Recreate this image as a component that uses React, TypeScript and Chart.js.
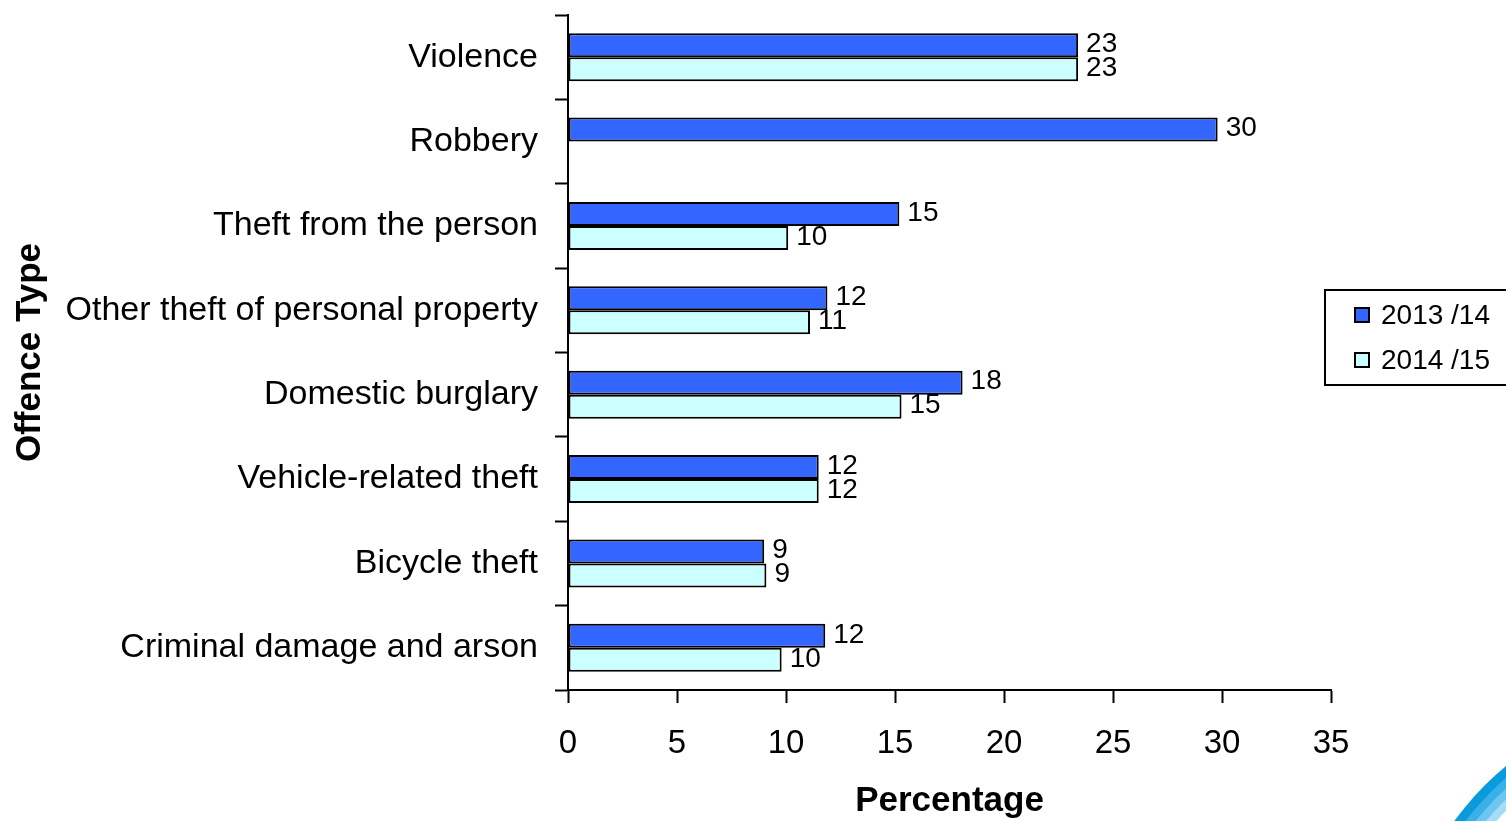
import React, { useEffect, useRef } from "react";
import { Chart, registerables } from "chart.js";

Chart.register(...registerables);

const categories = [
  "Violence",
  "Robbery",
  "Theft from the person",
  "Other theft of personal property",
  "Domestic burglary",
  "Vehicle-related theft",
  "Bicycle theft",
  "Criminal damage and arson",
];
const series2013Label = "2013 /14";
const series2014Label = "2014 /15";
const values2013: (number | null)[] = [23.4, 29.8, 15.2, 11.9, 18.1, 11.5, 9.0, 11.8];
const values2014: (number | null)[] = [23.4, null, 10.1, 11.1, 15.3, 11.5, 9.1, 9.8];
const xTickMax = 35;
const xTickStep = 5;

const SANS = "'Liberation Sans', Arial, Helvetica, sans-serif";

const valueLabelPlugin = {
  id: "valueLabels",
  afterDatasetsDraw(chart: any) {
    const ctx = chart.ctx;
    ctx.save();
    ctx.font = `28px ${SANS}`;
    ctx.fillStyle = "#000";
    ctx.textAlign = "left";
    ctx.textBaseline = "middle";
    chart.data.datasets.forEach((ds: any, di: number) => {
      const meta = chart.getDatasetMeta(di);
      meta.data.forEach((el: any, i: number) => {
        const v = ds.data[i];
        if (v === null || v === undefined) return;
        ctx.fillText(String(Math.round(v)), el.x + 8, el.y - 1);
      });
    });
    ctx.restore();
  },
};

const legendBoxPlugin = {
  id: "legendBox",
  afterDraw(chart: any) {
    const ctx = chart.ctx;
    ctx.save();
    ctx.strokeStyle = "#000";
    ctx.lineWidth = 2;
    ctx.strokeRect(1325, 290, 200, 95);
    ctx.font = `28px ${SANS}`;
    ctx.textBaseline = "middle";
    ctx.textAlign = "left";
    chart.data.datasets.forEach((ds: any, i: number) => {
      const cy = 315 + i * 45;
      ctx.fillStyle = ds.backgroundColor;
      ctx.fillRect(1355, cy - 7, 14, 14);
      ctx.lineWidth = 2;
      ctx.strokeStyle = "#000";
      ctx.strokeRect(1355, cy - 7, 14, 14);
      ctx.fillStyle = "#000";
      ctx.fillText(ds.label, 1381, cy + 1);
    });
    ctx.restore();
  },
};

const swooshPlugin = {
  id: "swoosh",
  beforeDraw(chart: any) {
    const ctx = chart.ctx;
    ctx.save();
    const colors = ["#0A9BDD", "#3AB0E8", "#6CC6F0", "#A6DDF6"];
    const radii = [304, 295, 287, 279];
    radii.forEach((r, i) => {
      ctx.beginPath();
      ctx.fillStyle = colors[i];
      ctx.arc(1700, 1000, r, 0, Math.PI * 2);
      ctx.fill();
    });
    ctx.beginPath();
    ctx.fillStyle = "#ffffff";
    ctx.arc(1700, 1000, 271, 0, Math.PI * 2);
    ctx.fill();
    ctx.restore();
  },
};

export default function App() {
  const canvasRef = useRef<HTMLCanvasElement | null>(null);

  useEffect(() => {
    if (!canvasRef.current) return;
    const chart = new Chart(canvasRef.current, {
      type: "bar",
      data: {
        labels: categories,
        datasets: [
          {
            label: series2013Label,
            data: values2013,
            backgroundColor: "#3366FF",
            borderColor: "#000000",
            borderWidth: 2,
            borderSkipped: false,
            categoryPercentage: 0.57,
            barPercentage: 1,
          },
          {
            label: series2014Label,
            data: values2014,
            backgroundColor: "#CCFFFF",
            borderColor: "#000000",
            borderWidth: 2,
            borderSkipped: false,
            categoryPercentage: 0.57,
            barPercentage: 1,
          },
        ],
      } as any,
      options: {
        indexAxis: "y",
        animation: false,
        responsive: false,
        devicePixelRatio: 1,
        layout: { padding: { top: 15, right: 175, bottom: 0, left: 0 } },
        plugins: {
          legend: { display: false },
          tooltip: { enabled: false },
        },
        scales: {
          x: {
            min: 0,
            max: xTickMax,
            ticks: {
              stepSize: xTickStep,
              color: "#000",
              font: { family: SANS, size: 33 },
              padding: 21,
              maxRotation: 0,
            },
            grid: {
              drawOnChartArea: false,
              drawTicks: true,
              tickLength: 13,
              tickWidth: 2,
              tickColor: "#000",
              color: "#000",
            },
            border: { display: true, color: "#000", width: 2 },
            title: {
              display: true,
              text: "Percentage",
              color: "#000",
              font: { family: SANS, size: 35, weight: "bold", lineHeight: 1.1 },
              padding: { top: 0, bottom: 0 },
            },
            afterFit(scale: any) {
              scale.height = 131;
            },
          },
          y: {
            ticks: {
              color: "#000",
              font: { family: SANS, size: 34 },
              padding: 17,
            },
            grid: {
              drawOnChartArea: false,
              drawTicks: true,
              offset: true,
              tickLength: 13,
              tickWidth: 2,
              tickColor: "#000",
              color: "#000",
            },
            border: { display: true, color: "#000", width: 2 },
            title: {
              display: true,
              text: "Offence Type",
              color: "#000",
              font: { family: SANS, size: 35, weight: "bold", lineHeight: 1.2 },
              padding: { top: 9, bottom: 0 },
            },
            afterFit(scale: any) {
              scale.width = 568;
              scale.paddingTop = 0;
              scale.paddingBottom = 0;
            },
          },
        },
      } as any,
      plugins: [swooshPlugin, valueLabelPlugin, legendBoxPlugin],
    });
    return () => chart.destroy();
  }, []);

  return (
    <div style={{ position: "fixed", left: 0, top: 0, width: 1506, height: 821, background: "#fff" }}>
      <canvas ref={canvasRef} width={1506} height={821} style={{ width: 1506, height: 821 }} />
    </div>
  );
}
